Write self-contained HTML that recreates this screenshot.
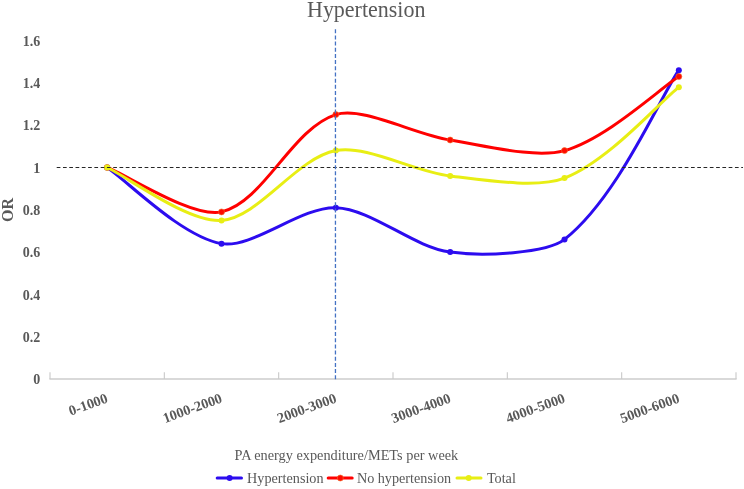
<!DOCTYPE html>
<html><head><meta charset="utf-8"><style>
html,body{margin:0;padding:0;background:#fff;}
body{width:744px;height:489px;overflow:hidden;}
svg{display:block;position:absolute;left:0;top:0;}
.tx{will-change:transform;}
text{font-family:"Liberation Serif",serif;fill:#595959;}
.yl{font-size:14px;font-weight:bold;text-anchor:end;}
.xl{font-size:14.3px;font-weight:bold;text-anchor:end;}
.title{font-size:22px;}
.ort{font-size:16px;font-weight:bold;text-anchor:middle;}
.axt{font-size:14.3px;}
.leg{font-size:14.2px;}
</style></head><body>
<svg width="744" height="489" viewBox="0 0 744 489">
<line x1="49.4" y1="379" x2="736.6" y2="379" stroke="#d9d9d9" stroke-width="1.8"/>
<line x1="50.00" y1="372.3" x2="50.00" y2="379" stroke="#c9c9c9" stroke-width="1.1"/>
<line x1="164.33" y1="372.3" x2="164.33" y2="379" stroke="#c9c9c9" stroke-width="1.1"/>
<line x1="278.67" y1="372.3" x2="278.67" y2="379" stroke="#c9c9c9" stroke-width="1.1"/>
<line x1="393.00" y1="372.3" x2="393.00" y2="379" stroke="#c9c9c9" stroke-width="1.1"/>
<line x1="507.33" y1="372.3" x2="507.33" y2="379" stroke="#c9c9c9" stroke-width="1.1"/>
<line x1="621.67" y1="372.3" x2="621.67" y2="379" stroke="#c9c9c9" stroke-width="1.1"/>
<line x1="736.00" y1="372.3" x2="736.00" y2="379" stroke="#c9c9c9" stroke-width="1.1"/>
<path d="M107.17,167.50 C127.40,180.98 181.35,236.58 221.50,243.64 C252.23,249.04 301.19,206.40 335.83,207.69 C372.08,209.03 412.50,246.87 450.17,252.10 C483.38,256.71 547.12,253.23 564.50,239.41 C618.01,196.85 658.60,100.16 678.83,70.21" fill="none" stroke="#2C0CEF" stroke-width="3" stroke-linecap="round" stroke-linejoin="round"/>
<circle cx="107.17" cy="167.50" r="3.0" fill="#2C0CEF"/>
<circle cx="221.50" cy="243.64" r="3.0" fill="#2C0CEF"/>
<circle cx="335.83" cy="207.69" r="3.0" fill="#2C0CEF"/>
<circle cx="450.17" cy="252.10" r="3.0" fill="#2C0CEF"/>
<circle cx="564.50" cy="239.41" r="3.0" fill="#2C0CEF"/>
<circle cx="678.83" cy="70.21" r="3.0" fill="#2C0CEF"/>
<path d="M107.17,167.50 C127.40,175.36 192.99,218.51 221.50,211.91 C263.87,202.12 291.93,128.43 335.83,114.62 C362.82,106.14 414.04,134.32 450.17,140.01 C484.92,145.47 534.93,158.78 564.50,150.58 C605.82,139.11 658.60,89.66 678.83,76.56" fill="none" stroke="#FF0000" stroke-width="3" stroke-linecap="round" stroke-linejoin="round"/>
<circle cx="107.17" cy="167.50" r="3.0" fill="#FF0A00" stroke="#F0702A" stroke-width="0.6"/>
<circle cx="221.50" cy="211.91" r="3.0" fill="#FF0A00" stroke="#F0702A" stroke-width="0.6"/>
<circle cx="335.83" cy="114.62" r="3.0" fill="#FF0A00" stroke="#F0702A" stroke-width="0.6"/>
<circle cx="450.17" cy="140.01" r="3.0" fill="#FF0A00" stroke="#F0702A" stroke-width="0.6"/>
<circle cx="564.50" cy="150.58" r="3.0" fill="#FF0A00" stroke="#F0702A" stroke-width="0.6"/>
<circle cx="678.83" cy="76.56" r="3.0" fill="#FF0A00" stroke="#F0702A" stroke-width="0.6"/>
<path d="M107.17,167.50 C127.40,176.86 188.19,222.84 221.50,220.38 C259.08,217.59 295.75,158.37 335.83,150.58 C366.64,144.60 413.89,171.60 450.17,175.96 C484.78,180.12 537.41,188.60 564.50,178.08 C608.29,161.06 658.60,103.23 678.83,87.13" fill="none" stroke="#E8EE14" stroke-width="3" stroke-linecap="round" stroke-linejoin="round"/>
<circle cx="107.17" cy="167.50" r="3.0" fill="#E8EE14"/>
<circle cx="221.50" cy="220.38" r="3.0" fill="#E8EE14"/>
<circle cx="335.83" cy="150.58" r="3.0" fill="#E8EE14"/>
<circle cx="450.17" cy="175.96" r="3.0" fill="#E8EE14"/>
<circle cx="564.50" cy="178.08" r="3.0" fill="#E8EE14"/>
<circle cx="678.83" cy="87.13" r="3.0" fill="#E8EE14"/>
<line x1="56.7" y1="167.5" x2="743" y2="167.5" stroke="#262626" stroke-width="1.1" stroke-dasharray="3.7 2.58"/>
<line x1="335.45" y1="29.2" x2="335.45" y2="379.6" stroke="#4472C4" stroke-width="1.3" stroke-dasharray="4 2.18"/>
<line x1="217.2" y1="478" x2="241.5" y2="478" stroke="#2C0CEF" stroke-width="3" stroke-linecap="round"/>
<circle cx="229.6" cy="478" r="3.0" fill="#2C0CEF"/>
<line x1="328.2" y1="478" x2="352.2" y2="478" stroke="#FF0000" stroke-width="3" stroke-linecap="round"/>
<circle cx="340.3" cy="478" r="3.0" fill="#FF0A00" stroke="#F0702A" stroke-width="0.6"/>
<line x1="457.0" y1="478" x2="481.0" y2="478" stroke="#E8EE14" stroke-width="3" stroke-linecap="round"/>
<circle cx="468.7" cy="478" r="3.0" fill="#E8EE14"/>
</svg>
<svg class="tx" width="744" height="489" viewBox="0 0 744 489">
<text x="40.2" y="384.2" class="yl">0</text>
<text x="40.2" y="341.9" class="yl">0.2</text>
<text x="40.2" y="299.6" class="yl">0.4</text>
<text x="40.2" y="257.3" class="yl">0.6</text>
<text x="40.2" y="215.0" class="yl">0.8</text>
<text x="40.2" y="172.7" class="yl">1</text>
<text x="40.2" y="130.4" class="yl">1.2</text>
<text x="40.2" y="88.1" class="yl">1.4</text>
<text x="40.2" y="45.8" class="yl">1.6</text>
<text x="108.8" y="402.0" class="xl" transform="rotate(-20 108.8 402.0)">0-1000</text>
<text x="223.1" y="402.0" class="xl" transform="rotate(-20 223.1 402.0)">1000-2000</text>
<text x="337.4" y="402.0" class="xl" transform="rotate(-20 337.4 402.0)">2000-3000</text>
<text x="451.8" y="402.0" class="xl" transform="rotate(-20 451.8 402.0)">3000-4000</text>
<text x="566.1" y="402.0" class="xl" transform="rotate(-20 566.1 402.0)">4000-5000</text>
<text x="680.4" y="402.0" class="xl" transform="rotate(-20 680.4 402.0)">5000-6000</text>
<text x="307" y="17" class="title" transform="translate(0 17) scale(1 1.06) translate(0 -17)">Hypertension</text>
<text x="13" y="210" class="ort" transform="rotate(-90 13 210)">OR</text>
<text x="234.5" y="460" class="axt">PA energy expenditure/METs per week</text>
<text x="247.1" y="483.1" class="leg">Hypertension</text>
<text x="356.9" y="483.1" class="leg">No hypertension</text>
<text x="486.9" y="483.1" class="leg">Total</text>
</svg>
</body></html>
